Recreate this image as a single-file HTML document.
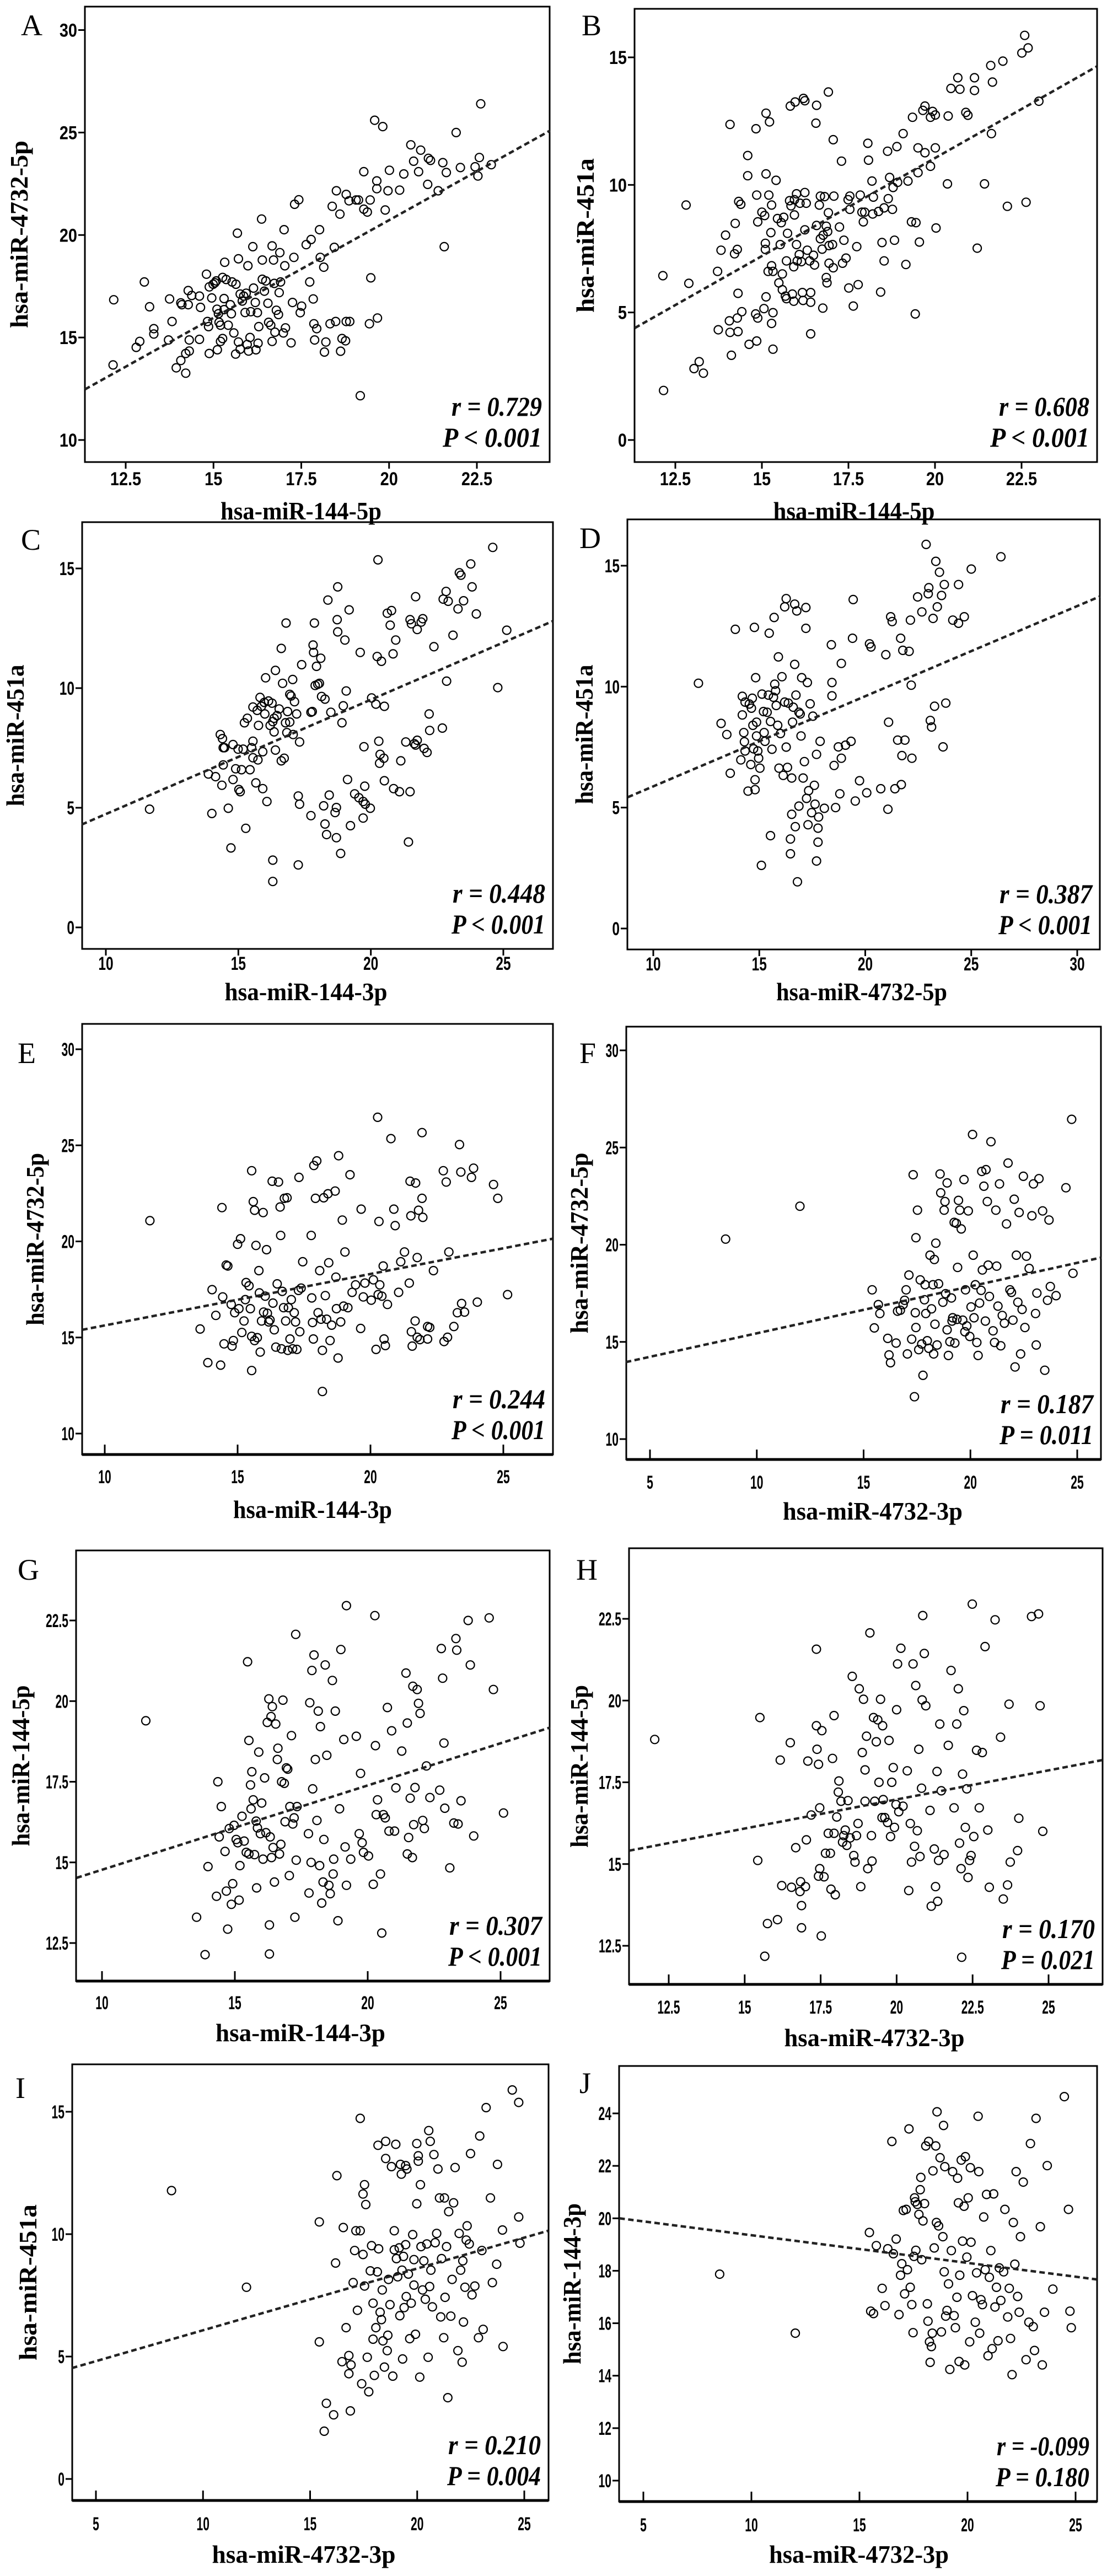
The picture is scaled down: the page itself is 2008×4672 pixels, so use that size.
<!DOCTYPE html>
<html><head><meta charset="utf-8"><style>
html,body{margin:0;padding:0;background:#fff;}
svg{display:block;}
</style></head><body>
<svg id="fig" xmlns="http://www.w3.org/2000/svg" width="2008" height="4672" viewBox="0 0 2008 4672">
<rect x="0" y="0" width="2008" height="4672" fill="#fff"/>
</svg>
<script>
const pointsA=[[12.14,13.66],[12.16,16.84],[12.8,14.52],[12.9,14.81],[13.03,17.71],[13.18,16.5],[13.3,15.43],[13.3,15.17],[13.72,14.88],[13.75,16.88],[13.82,15.78],[13.94,13.52],[14.07,13.88],[14.07,16.69],[14.1,16.6],[14.21,13.26],[14.21,14.22],[14.28,17.29],[14.28,16.6],[14.31,14.34],[14.31,14.88],[14.38,17.05],[14.6,14.91],[14.6,17.02],[14.63,16.47],[14.8,18.09],[14.83,15.78],[14.86,15.53],[14.88,14.22],[14.88,17.47],[14.95,16.93],[14.99,17.6],[15.04,17.67],[15.08,17.76],[15.1,16.38],[15.11,14.4],[15.14,16.16],[15.16,15.74],[15.2,15.6],[15.2,14.81],[15.26,17.93],[15.26,14.95],[15.3,16.9],[15.3,16.36],[15.32,18.67],[15.36,17.83],[15.42,15.6],[15.48,16.6],[15.51,16.16],[15.53,17.71],[15.58,15.22],[15.63,14.19],[15.64,17.6],[15.68,20.09],[15.71,18.84],[15.71,14.78],[15.76,14.43],[15.76,17.12],[15.82,16.78],[15.86,17.02],[15.9,16.22],[15.93,17.16],[15.96,14.66],[15.98,18.5],[16.0,14.34],[16.04,15.0],[16.06,16.26],[16.12,19.43],[16.14,17.41],[16.19,16.71],[16.21,14.4],[16.25,16.21],[16.27,14.72],[16.29,15.53],[16.37,20.78],[16.39,18.78],[16.39,17.84],[16.45,17.26],[16.49,17.76],[16.55,16.67],[16.57,15.74],[16.63,15.6],[16.67,14.81],[16.67,19.47],[16.71,18.78],[16.73,17.64],[16.75,15.26],[16.79,16.33],[16.85,16.12],[16.87,17.19],[16.89,19.14],[16.91,17.71],[16.99,15.22],[17.01,20.26],[17.03,18.5],[17.05,15.47],[17.21,14.74],[17.25,16.71],[17.29,18.91],[17.31,21.5],[17.43,21.72],[17.47,16.21],[17.51,16.53],[17.64,19.53],[17.74,17.71],[17.78,19.78],[17.84,16.88],[17.86,15.67],[17.88,14.88],[17.94,15.43],[18.02,20.26],[18.04,18.91],[18.14,18.43],[18.16,14.29],[18.2,14.78],[18.32,15.67],[18.38,21.4],[18.44,19.4],[18.48,15.78],[18.5,22.16],[18.6,21.02],[18.62,14.33],[18.66,14.95],[18.76,14.84],[18.78,21.98],[18.78,15.78],[18.86,21.67],[18.88,15.78],[19.06,21.71],[19.13,21.71],[19.18,12.16],[19.28,23.09],[19.28,21.26],[19.38,21.12],[19.44,15.67],[19.46,21.71],[19.48,17.91],[19.59,25.6],[19.65,22.64],[19.65,22.26],[19.67,15.95],[19.82,25.29],[19.89,21.22],[19.97,22.16],[20.01,23.16],[20.3,22.19],[20.42,22.98],[20.62,24.4],[20.7,23.6],[20.84,23.09],[20.9,24.14],[21.1,22.47],[21.12,23.74],[21.18,23.64],[21.4,22.16],[21.53,23.53],[21.57,19.43],[21.63,23.05],[21.91,25.0],[22.03,23.29],[22.45,23.33],[22.53,22.88],[22.57,23.78],[22.61,26.4],[22.91,23.43]];
const pointsB=[[12.16,1.94],[12.14,6.44],[12.81,9.21],[12.89,6.14],[13.04,2.8],[13.19,3.07],[13.31,2.62],[13.72,6.61],[13.74,4.32],[13.82,7.44],[13.95,8.03],[14.06,4.67],[14.08,12.37],[14.08,4.22],[14.12,3.32],[14.21,7.3],[14.23,8.49],[14.29,7.47],[14.29,4.78],[14.31,5.75],[14.31,4.25],[14.33,9.35],[14.39,9.24],[14.42,5.03],[14.59,11.15],[14.59,10.36],[14.63,3.75],[14.83,12.2],[14.82,4.94],[14.85,9.6],[14.85,3.88],[14.88,4.78],[14.88,8.55],[15.0,8.93],[15.06,5.15],[15.08,8.8],[15.1,7.71],[15.1,7.47],[15.12,12.81],[15.12,10.43],[15.12,5.61],[15.18,6.61],[15.2,9.6],[15.22,12.47],[15.26,8.13],[15.28,9.21],[15.28,4.57],[15.28,6.83],[15.32,6.61],[15.32,4.99],[15.32,3.56],[15.41,10.18],[15.45,8.68],[15.49,6.16],[15.53,7.66],[15.56,8.52],[15.59,6.51],[15.59,5.89],[15.63,8.73],[15.68,5.64],[15.71,7.02],[15.71,5.54],[15.74,8.1],[15.8,9.38],[15.82,13.09],[15.84,9.18],[15.88,5.72],[15.92,5.44],[15.92,6.79],[15.94,8.82],[15.94,9.42],[15.96,13.25],[16.0,9.65],[16.0,7.66],[16.02,7.02],[16.08,7.27],[16.1,9.28],[16.14,6.99],[16.17,5.78],[16.19,5.47],[16.2,13.39],[16.24,9.7],[16.24,8.24],[16.24,13.3],[16.28,9.28],[16.31,7.44],[16.38,7.02],[16.41,5.78],[16.41,5.4],[16.41,4.16],[16.49,7.24],[16.52,6.86],[16.56,12.42],[16.58,13.12],[16.58,8.41],[16.66,9.21],[16.69,9.56],[16.69,7.89],[16.74,7.48],[16.76,5.17],[16.77,8.03],[16.81,9.54],[16.86,8.38],[16.86,6.37],[16.88,6.16],[16.9,8.17],[16.92,8.91],[16.92,13.64],[16.94,7.62],[16.94,6.93],[17.04,7.66],[17.06,6.75],[17.06,11.77],[17.08,9.56],[17.24,8.35],[17.3,10.93],[17.33,6.93],[17.37,7.83],[17.43,7.13],[17.51,5.96],[17.49,9.42],[17.54,9.56],[17.54,9.04],[17.64,5.25],[17.74,7.58],[17.78,6.09],[17.84,9.6],[17.89,8.93],[17.93,8.55],[17.97,8.93],[18.06,11.63],[18.08,10.97],[18.18,10.15],[18.2,8.86],[18.22,9.52],[18.37,8.96],[18.43,5.8],[18.47,7.74],[18.53,7.02],[18.53,9.1],[18.63,11.32],[18.65,9.46],[18.69,10.29],[18.77,9.04],[18.79,9.9],[18.83,7.83],[18.9,11.5],[18.92,10.1],[19.08,12.01],[19.16,6.88],[19.22,10.15],[19.32,8.55],[19.35,12.65],[19.43,4.94],[19.45,8.52],[19.51,11.45],[19.51,10.48],[19.55,7.76],[19.65,12.92],[19.71,13.09],[19.71,11.26],[19.87,10.73],[19.87,12.65],[19.93,12.88],[20.01,12.74],[20.01,11.45],[20.03,8.31],[20.36,10.04],[20.38,12.7],[20.46,13.78],[20.66,14.2],[20.72,13.75],[20.89,12.84],[20.95,12.73],[21.14,13.7],[21.14,14.2],[21.22,7.52],[21.43,10.04],[21.61,14.68],[21.63,12.01],[21.66,14.03],[21.96,14.85],[22.09,9.16],[22.51,15.17],[22.63,9.32],[22.59,15.86],[22.69,15.37],[23.0,13.28]];
const pointsC=[[11.65,4.94],[13.87,6.41],[14.0,4.76],[14.14,6.3],[14.32,8.06],[14.4,7.89],[14.43,7.51],[14.43,6.79],[14.48,7.51],[14.38,5.94],[14.62,4.98],[14.72,3.32],[14.8,6.18],[14.8,7.64],[14.9,6.63],[14.99,7.45],[15.02,5.76],[15.07,5.67],[15.12,6.59],[15.18,7.45],[15.23,8.55],[15.28,4.14],[15.34,8.74],[15.44,6.59],[15.5,7.51],[15.55,7.09],[15.55,7.78],[15.55,9.21],[15.66,6.04],[15.71,9.07],[15.74,7.0],[15.76,8.44],[15.82,9.61],[15.87,9.24],[15.92,7.34],[15.98,9.4],[16.0,8.92],[15.92,5.8],[16.03,10.43],[16.08,5.26],[16.14,9.46],[16.2,8.44],[16.27,9.37],[16.3,2.81],[16.3,1.92],[16.3,8.6],[16.35,8.74],[16.35,8.17],[16.4,10.74],[16.4,7.41],[16.46,8.85],[16.54,9.13],[16.62,11.66],[16.62,6.96],[16.67,10.2],[16.73,7.07],[16.78,8.55],[16.8,12.72],[16.83,8.14],[16.86,9.02],[16.94,9.74],[16.94,8.58],[16.99,9.67],[17.05,10.36],[17.07,8.06],[17.12,9.43],[17.2,8.92],[17.26,2.61],[17.26,5.49],[17.31,5.15],[17.31,7.75],[17.39,10.98],[17.74,4.67],[17.74,8.99],[17.79,9.02],[17.82,11.8],[17.84,11.49],[17.87,12.72],[17.9,10.11],[17.95,10.91],[18.0,10.16],[18.06,10.2],[18.11,11.25],[18.14,9.65],[18.22,5.08],[18.27,4.32],[18.27,9.54],[18.33,3.88],[18.38,13.68],[18.43,5.53],[18.49,8.99],[18.65,4.8],[18.7,5.01],[18.75,14.23],[18.7,3.75],[18.73,12.86],[18.75,12.35],[18.86,3.09],[18.91,8.55],[18.96,9.26],[19.02,12.01],[19.07,9.88],[19.12,6.18],[19.18,13.27],[19.23,4.25],[19.39,5.58],[19.55,5.42],[19.6,11.49],[19.71,5.26],[19.71,4.57],[19.74,7.55],[19.77,5.9],[19.79,5.15],[19.98,4.98],[20.03,9.59],[20.19,9.33],[20.24,11.32],[20.27,15.36],[20.3,7.78],[20.33,6.86],[20.35,7.23],[20.4,11.12],[20.49,7.07],[20.51,6.13],[20.51,9.24],[20.62,13.13],[20.73,12.63],[20.78,13.24],[20.84,11.43],[20.86,5.8],[20.94,12.01],[21.08,5.67],[21.13,6.96],[21.32,7.75],[21.42,3.57],[21.48,5.67],[21.48,12.86],[21.53,12.69],[21.64,7.68],[21.69,7.62],[21.69,13.82],[21.75,7.82],[21.75,12.45],[21.9,12.76],[21.96,12.9],[22.01,7.48],[22.12,7.31],[22.2,8.92],[22.22,8.23],[22.38,11.73],[22.7,8.33],[22.73,13.72],[22.84,14.04],[22.86,10.29],[22.92,13.63],[23.1,12.21],[23.29,13.31],[23.34,14.82],[23.4,14.72],[23.5,13.65],[23.77,15.19],[23.82,14.23],[23.98,13.1],[24.6,15.88],[24.79,10.02],[25.13,12.42]];
const pointsD=[[12.13,10.14],[13.2,8.48],[13.47,8.02],[13.63,6.42],[13.87,12.37],[14.13,6.97],[14.2,9.6],[14.2,8.83],[14.27,8.1],[14.3,7.72],[14.33,9.36],[14.33,7.34],[14.47,5.68],[14.53,9.28],[14.6,6.78],[14.63,9.11],[14.67,9.52],[14.7,8.4],[14.73,7.43],[14.77,12.45],[14.8,6.15],[14.8,5.74],[14.83,10.37],[14.87,8.53],[14.87,7.96],[14.93,7.34],[14.97,7.04],[15.03,6.63],[15.1,2.61],[15.13,9.69],[15.2,8.97],[15.23,8.1],[15.27,7.74],[15.37,8.94],[15.43,9.65],[15.47,12.21],[15.53,3.84],[15.53,8.56],[15.6,7.41],[15.67,9.56],[15.7,12.86],[15.73,10.1],[15.77,9.83],[15.8,9.22],[15.87,8.4],[15.9,11.23],[15.93,6.63],[16.0,8.06],[16.07,10.41],[16.13,6.33],[16.2,13.3],[16.2,9.36],[16.27,13.64],[16.27,7.5],[16.33,6.66],[16.37,9.32],[16.47,3.7],[16.47,3.09],[16.53,4.72],[16.53,6.22],[16.57,8.53],[16.6,9.15],[16.67,13.41],[16.67,10.92],[16.7,4.21],[16.73,9.65],[16.77,13.13],[16.8,1.93],[16.87,5.06],[16.87,8.94],[16.93,8.87],[16.97,7.96],[17.0,10.37],[17.07,6.22],[17.13,6.9],[17.2,13.27],[17.2,12.41],[17.23,5.38],[17.27,10.17],[17.3,4.29],[17.33,5.7],[17.4,9.29],[17.47,4.79],[17.53,8.78],[17.6,5.92],[17.63,5.14],[17.7,2.79],[17.7,7.2],[17.77,3.57],[17.77,4.15],[17.8,4.61],[17.87,7.74],[18.07,4.97],[18.4,11.73],[18.43,10.17],[18.43,9.62],[18.53,6.74],[18.6,5.0],[18.73,7.51],[18.8,5.57],[18.87,10.96],[18.87,7.04],[19.07,7.58],[19.33,7.74],[19.4,12.0],[19.43,13.6],[19.53,5.27],[19.73,6.11],[20.07,5.61],[20.2,11.77],[20.27,11.64],[20.73,5.78],[20.97,11.32],[21.07,4.93],[21.1,8.53],[21.2,12.89],[21.27,12.69],[21.4,5.78],[21.53,7.79],[21.67,12.0],[21.7,5.95],[21.73,7.15],[21.77,11.5],[21.87,7.79],[22.07,11.46],[22.13,12.75],[22.2,7.04],[22.17,10.06],[22.47,13.71],[22.67,13.09],[22.87,15.88],[22.97,13.84],[23.0,14.09],[23.07,8.6],[23.13,8.33],[23.2,12.82],[23.27,9.19],[23.33,15.18],[23.4,13.3],[23.5,14.73],[23.6,13.77],[23.67,7.51],[23.73,14.22],[23.8,9.32],[24.13,12.75],[24.4,14.22],[24.4,12.62],[24.67,12.89],[25.0,14.86],[26.4,15.37]];
const pointsE=[[11.7,21.08],[13.59,15.44],[13.88,13.69],[14.04,17.49],[14.18,16.15],[14.36,13.56],[14.41,21.76],[14.44,17.11],[14.49,14.67],[14.57,18.77],[14.63,18.72],[14.76,16.72],[14.79,14.55],[14.84,14.84],[14.89,16.29],[15.0,19.85],[15.05,16.5],[15.11,20.14],[15.16,15.26],[15.24,15.86],[15.29,16.97],[15.32,17.86],[15.43,17.69],[15.48,16.5],[15.53,15.06],[15.53,13.28],[15.53,23.68],[15.59,22.07],[15.64,21.62],[15.64,14.84],[15.69,19.79],[15.74,14.99],[15.8,18.48],[15.82,17.32],[15.85,14.24],[15.9,15.86],[15.96,21.5],[15.98,16.32],[16.04,17.15],[16.09,19.57],[16.12,16.26],[16.17,15.81],[16.22,15.91],[16.3,23.13],[16.33,16.79],[16.38,15.4],[16.44,14.5],[16.49,17.79],[16.54,23.09],[16.6,21.79],[16.62,20.31],[16.65,14.41],[16.68,17.4],[16.73,16.55],[16.76,22.24],[16.81,15.86],[16.86,22.27],[16.89,14.33],[16.91,16.55],[16.97,14.92],[17.02,16.97],[17.07,14.41],[17.13,16.29],[17.18,15.81],[17.23,14.38],[17.29,17.45],[17.31,23.33],[17.34,15.3],[17.39,17.57],[17.45,18.94],[17.77,20.31],[17.79,17.06],[17.82,15.78],[17.85,14.92],[17.87,23.95],[17.93,22.24],[17.98,24.19],[18.03,16.29],[18.09,18.48],[18.14,15.95],[18.19,14.33],[18.19,12.19],[18.24,22.27],[18.3,17.18],[18.35,15.95],[18.4,22.48],[18.43,18.89],[18.48,14.84],[18.54,15.64],[18.67,22.62],[18.7,18.14],[18.72,16.5],[18.78,13.93],[18.8,24.46],[18.88,15.81],[18.94,21.11],[18.99,16.63],[19.04,19.45],[19.15,16.55],[19.23,23.47],[19.31,17.35],[19.44,17.74],[19.63,15.47],[19.65,21.68],[19.73,17.11],[19.79,17.83],[20.03,16.94],[20.11,18.0],[20.21,14.38],[20.27,26.46],[20.29,17.23],[20.32,21.04],[20.35,17.74],[20.43,17.15],[20.48,18.72],[20.51,14.92],[20.56,14.58],[20.64,16.72],[20.77,25.35],[20.88,21.68],[20.93,20.82],[21.06,17.35],[21.14,18.94],[21.28,19.45],[21.46,17.83],[21.49,23.13],[21.52,21.33],[21.54,15.3],[21.57,14.55],[21.68,15.86],[21.7,23.04],[21.76,19.16],[21.76,15.01],[21.81,21.62],[21.86,14.89],[21.94,25.66],[21.94,22.24],[21.97,21.25],[22.15,14.92],[22.15,15.57],[22.23,15.52],[22.37,18.48],[22.74,23.68],[22.77,14.79],[22.85,23.09],[22.9,15.01],[22.95,19.45],[23.14,15.57],[23.27,16.29],[23.35,25.04],[23.4,23.61],[23.43,16.77],[23.54,16.32],[23.8,23.33],[23.88,23.81],[24.02,16.84],[24.63,22.96],[24.79,22.24],[25.16,17.23]];
const pointsF=[[8.54,20.29],[12.02,21.98],[15.4,17.68],[15.5,15.72],[15.69,16.92],[15.76,16.46],[16.13,15.18],[16.19,14.33],[16.26,13.93],[16.52,14.94],[16.59,16.58],[16.72,16.63],[16.85,16.92],[16.92,17.14],[16.99,17.68],[17.05,14.38],[17.12,18.44],[17.25,15.14],[17.32,23.6],[17.38,12.18],[17.42,16.5],[17.45,20.36],[17.45,15.74],[17.52,21.78],[17.58,14.6],[17.65,18.19],[17.72,14.89],[17.78,13.28],[17.85,17.17],[17.88,17.94],[17.91,16.46],[17.98,15.06],[18.05,14.67],[18.11,19.46],[18.18,16.7],[18.25,17.94],[18.28,14.38],[18.31,19.24],[18.34,15.91],[18.38,20.08],[18.44,14.84],[18.51,17.99],[18.58,23.64],[18.61,22.67],[18.71,17.04],[18.77,21.78],[18.81,22.22],[18.84,17.48],[18.91,23.18],[18.91,15.62],[18.97,14.3],[19.04,15.01],[19.11,17.26],[19.14,16.07],[19.17,16.24],[19.24,21.15],[19.27,14.94],[19.34,21.1],[19.37,16.16],[19.4,18.83],[19.44,22.28],[19.5,21.78],[19.57,20.81],[19.64,16.12],[19.7,23.35],[19.74,15.52],[19.77,17.68],[19.83,15.82],[19.9,21.74],[19.97,15.28],[20.03,16.8],[20.1,25.67],[20.13,19.46],[20.17,16.24],[20.23,17.94],[20.3,14.97],[20.36,14.3],[20.43,17.0],[20.5,17.65],[20.53,23.77],[20.56,18.7],[20.63,23.01],[20.7,16.07],[20.73,23.86],[20.79,22.22],[20.83,18.95],[20.89,17.34],[20.96,25.3],[21.06,15.57],[21.13,14.97],[21.19,21.78],[21.23,18.9],[21.29,16.84],[21.36,23.13],[21.42,14.8],[21.49,16.36],[21.59,15.96],[21.69,21.07],[21.76,24.2],[21.85,17.68],[21.92,17.55],[21.99,16.12],[22.05,22.34],[22.09,13.71],[22.15,19.46],[22.22,17.04],[22.28,21.66],[22.35,14.38],[22.42,16.67],[22.48,23.52],[22.55,15.74],[22.62,19.41],[22.75,18.78],[22.88,21.49],[22.95,23.13],[23.05,16.46],[23.08,14.84],[23.11,17.51],[23.21,23.4],[23.38,21.74],[23.48,13.54],[23.61,17.14],[23.68,21.27],[23.74,17.85],[24.01,17.38],[24.47,22.93],[24.74,26.45],[24.8,18.53]];
const pointsG=[[11.65,19.39],[13.56,13.3],[13.88,12.14],[13.99,14.87],[14.31,13.95],[14.36,17.5],[14.41,15.79],[14.49,16.73],[14.63,15.34],[14.68,14.11],[14.73,12.93],[14.79,16.05],[14.87,13.7],[14.92,14.34],[14.97,16.15],[15.05,15.71],[15.11,15.61],[15.16,13.83],[15.19,14.9],[15.27,16.43],[15.35,15.66],[15.43,15.31],[15.48,21.22],[15.53,18.78],[15.53,15.26],[15.59,17.4],[15.61,16.66],[15.64,17.81],[15.69,16.94],[15.74,15.24],[15.8,16.28],[15.82,14.21],[15.85,16.07],[15.9,18.42],[15.96,15.89],[16.01,16.84],[16.06,15.1],[16.12,17.62],[16.17,15.92],[16.22,19.34],[16.28,20.07],[16.3,13.06],[16.3,12.16],[16.33,15.79],[16.36,19.52],[16.38,15.15],[16.41,19.83],[16.44,15.46],[16.49,14.39],[16.54,19.29],[16.6,18.19],[16.62,18.54],[16.68,15.26],[16.73,15.56],[16.76,17.5],[16.81,20.03],[16.86,17.45],[16.89,16.26],[16.94,17.93],[16.99,17.89],[17.05,14.59],[17.07,16.73],[17.13,18.93],[17.18,16.19],[17.23,16.38],[17.26,13.3],[17.29,22.07],[17.31,15.07],[17.34,16.73],[17.77,15.89],[17.79,14.05],[17.82,19.95],[17.87,15.0],[17.9,20.95],[17.93,17.28],[17.98,21.43],[18.03,18.19],[18.09,16.3],[18.14,19.69],[18.19,14.9],[18.22,19.21],[18.27,13.74],[18.32,14.39],[18.35,15.71],[18.4,21.12],[18.46,18.32],[18.54,14.29],[18.59,14.03],[18.67,20.64],[18.7,14.64],[18.72,15.1],[18.78,19.69],[18.88,13.19],[18.94,16.66],[18.99,21.6],[19.1,18.81],[19.15,15.48],[19.2,14.29],[19.2,22.96],[19.36,15.1],[19.57,18.91],[19.68,15.89],[19.73,17.76],[19.79,15.61],[19.84,15.31],[20.03,15.2],[20.21,14.32],[20.27,22.65],[20.29,18.62],[20.32,16.48],[20.37,16.94],[20.48,14.64],[20.53,12.81],[20.59,16.48],[20.66,16.38],[20.74,19.8],[20.8,15.97],[20.9,19.08],[21.01,15.97],[21.06,17.31],[21.28,18.45],[21.44,20.87],[21.49,15.26],[21.49,19.32],[21.54,15.77],[21.6,16.99],[21.68,15.15],[21.7,20.46],[21.73,16.17],[21.78,17.32],[21.86,20.36],[21.91,19.93],[21.97,19.62],[22.07,16.3],[22.13,16.05],[22.21,17.99],[22.34,17.01],[22.71,17.24],[22.77,21.63],[22.82,20.71],[22.87,18.7],[22.9,16.68],[23.09,14.83],[23.24,16.22],[23.32,21.94],[23.35,21.58],[23.4,16.19],[23.51,16.91],[23.78,22.5],[23.86,21.12],[23.99,15.82],[24.57,22.58],[24.73,20.36],[25.11,16.53]];
const pointsH=[[12.04,18.81],[15.43,15.11],[15.5,19.48],[15.66,12.18],[15.75,13.18],[16.08,13.3],[16.17,18.18],[16.22,14.34],[16.5,18.71],[16.54,14.29],[16.68,15.5],[16.82,14.16],[16.84,14.46],[16.87,13.73],[16.87,13.05],[17.0,14.31],[17.03,15.74],[17.08,18.15],[17.19,16.5],[17.36,19.23],[17.36,21.57],[17.38,18.51],[17.43,18.05],[17.43,14.63],[17.47,16.72],[17.47,14.86],[17.52,12.8],[17.54,19.08],[17.61,14.61],[17.66,15.33],[17.75,15.94],[17.82,15.33],[17.84,14.23],[17.89,18.23],[17.94,19.54],[17.94,15.94],[17.98,14.06],[18.03,16.44],[18.08,17.2],[18.1,17.54],[18.17,16.92],[18.22,15.67],[18.26,15.87],[18.31,16.04],[18.36,15.57],[18.4,16.94],[18.47,15.8],[18.54,20.74],[18.59,15.26],[18.63,15.06],[18.68,15.87],[18.73,16.24],[18.77,20.36],[18.82,14.31],[18.87,18.41],[18.91,20.04],[18.96,17.88],[18.96,16.92],[19.01,18.91],[19.05,14.86],[19.12,22.07],[19.17,15.87],[19.19,15.09],[19.24,19.48],[19.28,16.92],[19.33,18.74],[19.38,19.41],[19.42,17.5],[19.47,20.04],[19.52,16.42],[19.54,19.23],[19.56,16.97],[19.61,16.42],[19.7,16.27],[19.75,18.78],[19.8,15.84],[19.84,17.5],[19.89,17.95],[19.93,16.12],[19.98,16.82],[20.0,19.72],[20.03,21.12],[20.07,16.6],[20.14,21.6],[20.21,16.77],[20.35,17.85],[20.4,14.19],[20.45,16.24],[20.49,15.06],[20.54,21.12],[20.59,15.54],[20.63,20.46],[20.68,16.02],[20.73,18.51],[20.77,15.23],[20.82,17.32],[20.84,20.02],[20.86,22.6],[20.91,21.44],[20.96,19.84],[21.1,16.64],[21.14,13.71],[21.24,15.46],[21.28,14.31],[21.33,17.83],[21.35,13.86],[21.38,15.11],[21.42,19.28],[21.47,17.24],[21.56,15.29],[21.7,18.63],[21.79,20.92],[21.89,16.72],[21.98,19.28],[22.03,20.36],[22.07,15.64],[22.12,14.86],[22.14,12.15],[22.17,17.75],[22.21,19.69],[22.26,16.12],[22.31,17.3],[22.35,14.59],[22.4,15.11],[22.45,15.26],[22.49,22.95],[22.54,15.84],[22.63,18.48],[22.82,18.41],[22.72,16.72],[22.91,21.65],[23.0,16.04],[23.05,14.29],[23.24,22.47],[23.42,18.88],[23.51,13.93],[23.65,14.36],[23.7,19.89],[23.74,15.06],[23.98,15.41],[24.02,16.4],[24.44,22.57],[24.67,22.65],[24.72,19.84],[24.81,16.0]];
const pointsI=[[8.53,11.78],[12.03,7.83],[15.43,10.5],[15.43,5.6],[15.66,1.95],[15.76,3.09],[16.1,2.62],[16.19,8.82],[16.25,12.39],[16.49,4.79],[16.55,10.27],[16.68,6.18],[16.81,5.04],[16.81,4.3],[16.88,2.78],[16.91,4.66],[17.01,8.02],[17.08,9.33],[17.14,10.14],[17.21,6.89],[17.34,10.14],[17.34,14.73],[17.41,3.89],[17.47,9.17],[17.47,11.64],[17.54,12.02],[17.54,7.88],[17.6,11.21],[17.67,4.97],[17.74,3.56],[17.81,8.5],[17.87,9.53],[17.94,5.71],[17.94,7.18],[18.0,4.23],[18.07,6.18],[18.14,8.46],[18.17,13.63],[18.2,9.4],[18.27,6.81],[18.33,6.51],[18.37,7.72],[18.4,5.64],[18.47,4.57],[18.53,13.79],[18.53,13.09],[18.6,5.24],[18.63,5.87],[18.66,8.15],[18.73,7.12],[18.8,12.76],[18.86,4.2],[18.93,9.36],[18.93,10.14],[19.0,13.67],[19.03,9.0],[19.09,8.26],[19.16,9.44],[19.19,6.67],[19.22,12.85],[19.26,12.45],[19.29,8.53],[19.32,4.9],[19.36,9.09],[19.39,7.0],[19.46,9.57],[19.46,12.8],[19.49,7.45],[19.52,12.66],[19.59,8.37],[19.65,5.73],[19.72,7.18],[19.79,9.98],[19.85,7.92],[19.85,8.96],[19.92,5.91],[19.98,11.24],[19.98,13.7],[20.05,13.2],[20.05,12.98],[20.12,4.16],[20.15,12.02],[20.18,9.49],[20.25,7.72],[20.31,8.91],[20.38,7.34],[20.45,9.6],[20.51,4.97],[20.54,14.23],[20.58,7.86],[20.61,13.79],[20.64,8.53],[20.71,7.03],[20.78,13.25],[20.84,9.65],[20.91,10.03],[20.97,12.66],[21.04,11.48],[21.1,6.62],[21.14,9.0],[21.24,5.77],[21.27,11.48],[21.3,7.42],[21.37,9.49],[21.43,3.32],[21.47,10.92],[21.57,6.65],[21.63,8.15],[21.7,11.28],[21.77,12.72],[21.9,5.24],[21.96,10.03],[22.03,8.53],[22.1,4.77],[22.13,8.91],[22.16,6.41],[22.23,7.83],[22.29,9.76],[22.33,10.34],[22.43,9.6],[22.49,13.29],[22.56,7.52],[22.69,7.88],[22.86,5.77],[22.92,14.01],[23.02,9.33],[23.08,6.11],[23.22,15.17],[23.42,11.48],[23.51,8.02],[23.71,8.77],[23.75,12.85],[23.98,10.17],[24.01,5.41],[24.44,15.89],[24.74,15.38],[24.74,10.7],[24.8,9.63]];
const pointsJ=[[8.53,17.87],[12.03,15.62],[15.46,19.46],[15.52,16.46],[15.65,16.37],[15.78,18.96],[16.05,17.33],[16.18,16.67],[16.31,18.84],[16.5,22.93],[16.57,18.65],[16.7,19.21],[16.83,16.33],[16.9,17.83],[16.96,18.27],[17.03,20.3],[17.09,17.12],[17.16,20.34],[17.22,18.04],[17.29,23.41],[17.35,17.37],[17.42,16.71],[17.48,15.64],[17.52,18.55],[17.55,20.78],[17.58,20.63],[17.61,18.78],[17.68,20.53],[17.75,20.15],[17.81,21.09],[17.84,21.56],[17.88,18.42],[17.94,19.9],[18.01,20.56],[18.07,22.76],[18.14,16.74],[18.17,16.08],[18.2,22.93],[18.24,15.29],[18.27,14.51],[18.33,15.11],[18.37,15.62],[18.4,21.81],[18.46,18.87],[18.53,22.76],[18.56,19.84],[18.59,24.06],[18.66,19.71],[18.73,22.31],[18.79,15.67],[18.86,19.3],[18.89,23.54],[18.92,17.96],[18.95,21.97],[18.99,16.27],[19.05,16.49],[19.12,17.5],[19.18,14.24],[19.25,18.77],[19.31,21.78],[19.38,16.29],[19.44,15.83],[19.51,16.99],[19.54,21.53],[19.58,20.59],[19.61,14.54],[19.64,17.83],[19.71,22.22],[19.77,19.13],[19.84,20.46],[19.87,14.41],[19.9,22.35],[19.97,18.52],[20.03,20.78],[20.1,15.29],[20.13,21.93],[20.16,19.09],[20.23,17.05],[20.36,16.04],[20.42,17.92],[20.49,23.89],[20.52,21.78],[20.56,15.62],[20.62,16.9],[20.69,16.71],[20.75,20.05],[20.82,18.04],[20.88,20.91],[20.95,14.76],[21.01,17.75],[21.08,18.77],[21.14,15.03],[21.21,20.93],[21.27,16.62],[21.34,17.37],[21.41,15.33],[21.47,18.11],[21.54,16.87],[21.67,17.96],[21.73,20.34],[21.86,16.24],[21.93,17.33],[21.99,15.42],[22.06,14.04],[22.12,19.84],[22.19,18.25],[22.25,21.78],[22.32,17.02],[22.39,16.42],[22.45,19.3],[22.58,21.38],[22.71,14.61],[22.84,16.04],[22.91,22.85],[23.04,15.87],[23.1,14.96],[23.17,23.81],[23.37,19.68],[23.46,14.41],[23.56,16.42],[23.69,22.01],[23.95,17.3],[24.48,24.64],[24.67,20.34],[24.74,16.46],[24.8,15.83]];

const lineA_x=[11.34,24.58], lineA_y=[12.47,25.09];
const lineB_x=[11.33,24.67], lineB_y=[4.39,14.64];
const lineC_x=[9.09,26.87], lineC_y=[4.3,12.8];
const lineD_x=[8.8,31.07], lineD_y=[5.43,13.73];
const lineE_x=[9.15,26.86], lineE_y=[15.4,20.14];
const lineF_x=[3.87,26.13], lineF_y=[13.96,19.34];
const lineG_x=[9.04,26.86], lineG_y=[14.52,19.18];
const lineH_x=[11.2,26.77], lineH_y=[15.41,18.18];
const lineI_x=[3.88,26.12], lineI_y=[4.53,10.14];
const lineJ_x=[3.89,25.98], lineJ_y=[20.0,17.67];

const xTicksA=[12.5,15,17.5,20,22.5], yTicksA=[10,15,20,25,30];
const xTicksB=[12.5,15,17.5,20,22.5], yTicksB=[0,5,10,15];
const xTicksC=[10,15,20,25], yTicksC=[0,5,10,15];
const xTicksD=[10,15,20,25,30], yTicksD=[0,5,10,15];
const xTicksE=[10,15,20,25], yTicksE=[10,15,20,25,30];
const xTicksF=[5,10,15,20,25], yTicksF=[10,15,20,25,30];
const xTicksG=[10,15,20,25], yTicksG=[12.5,15,17.5,20,22.5];
const xTicksH=[12.5,15,17.5,20,22.5,25], yTicksH=[12.5,15,17.5,20,22.5];
const xTicksI=[5,10,15,20,25], yTicksI=[0,5,10,15];
const xTicksJ=[5,10,15,20,25], yTicksJ=[10,12,14,16,18,20,22,24];

const rValues=['0.729','0.608','0.448','0.387','0.244','0.187','0.307','0.170','0.210','-0.099'];
const pValues=['< 0.001','< 0.001','< 0.001','< 0.001','< 0.001','= 0.011','< 0.001','= 0.021','= 0.004','= 0.180'];

const NS='http://www.w3.org/2000/svg';
const svg=document.getElementById('fig');
function mk(tag,attrs,parent){const e=document.createElementNS(NS,tag);for(const k in attrs)e.setAttribute(k,attrs[k]);(parent||svg).appendChild(e);return e;}

const panels=[
 {L:'A',pts:pointsA,lx:lineA_x,ly:lineA_y,xt:xTicksA,yt:yTicksA,xl:'hsa-miR-144-5p',yl:'hsa-miR-4732-5p',box:[154,12,997,838],xm:[12.5,228,22.5,865],ym:[30,54.5,10,798],let:[38,64],ytx:35,ytl:340,xtc:546,xtb:942,xtl:292,tdir:1,xlo:42,sx:0.85},
 {L:'B',pts:pointsB,lx:lineB_x,ly:lineB_y,xt:xTicksB,yt:yTicksB,xl:'hsa-miR-144-5p',yl:'hsa-miR-451a',box:[1151,16,1990,838],xm:[12.5,1225,22.5,1853],ym:[15,104,0,798],let:[1055,64],ytx:1062,ytl:280,xtc:1549,xtb:942,xtl:293,tdir:1,xlo:42,sx:0.85},
 {L:'C',pts:pointsC,lx:lineC_x,ly:lineC_y,xt:xTicksC,yt:yTicksC,xl:'hsa-miR-144-3p',yl:'hsa-miR-451a',box:[149,947,1003,1721],xm:[10,192,25,913],ym:[15,1031,0,1682],let:[38,997],ytx:28,ytl:257,xtc:555,xtb:1814,xtl:295,tdir:1,xlo:38,sx:0.72},
 {L:'D',pts:pointsD,lx:lineD_x,ly:lineD_y,xt:xTicksD,yt:yTicksD,xl:'hsa-miR-4732-5p',yl:'hsa-miR-451a',box:[1138,942,1995,1722],xm:[10,1185,30,1954],ym:[15,1026,0,1684],let:[1051,994],ytx:1060,ytl:253,xtc:1563,xtb:1814,xtl:310,tdir:1,xlo:38,sx:0.72},
 {L:'E',pts:pointsE,lx:lineE_x,ly:lineE_y,xt:xTicksE,yt:yTicksE,xl:'hsa-miR-144-3p',yl:'hsa-miR-4732-5p',box:[149,1857,1003,2638],xm:[10,190,25,913],ym:[30,1903,10,2600],let:[32,1928],ytx:64,ytl:313,xtc:567,xtb:2753,xtl:288,tdir:-1,xlo:52,sx:0.62},
 {L:'F',pts:pointsF,lx:lineF_x,ly:lineF_y,xt:xTicksF,yt:yTicksF,xl:'hsa-miR-4732-3p',yl:'hsa-miR-4732-5p',box:[1136,1862,1997,2647],xm:[5,1179,25,1954],ym:[30,1905,10,2610],let:[1051,1928],ytx:1051,ytl:328,xtc:1583,xtb:2756,xtl:326,tdir:-1,xlo:53,sx:0.62},
 {L:'G',pts:pointsG,lx:lineG_x,ly:lineG_y,xt:xTicksG,yt:yTicksG,xl:'hsa-miR-144-3p',yl:'hsa-miR-144-5p',box:[138,2812,997,3593],xm:[10,185,25,908],ym:[22.5,2939,12.5,3524],let:[32,2865],ytx:38,ytl:292,xtc:545,xtb:3702,xtl:308,tdir:-1,xlo:51,sx:0.62},
 {L:'H',pts:pointsH,lx:lineH_x,ly:lineH_y,xt:xTicksH,yt:yTicksH,xl:'hsa-miR-4732-3p',yl:'hsa-miR-144-5p',box:[1141,2808,2000,3599],xm:[12.5,1213,25,1902],ym:[22.5,2936,12.5,3529],let:[1045,2865],ytx:1051,ytl:295,xtc:1586,xtb:3711,xtl:327,tdir:-1,xlo:53,sx:0.62},
 {L:'I',pts:pointsI,lx:lineI_x,ly:lineI_y,xt:xTicksI,yt:yTicksI,xl:'hsa-miR-4732-3p',yl:'hsa-miR-451a',box:[131,3744,995,4535],xm:[5,174,25,951],ym:[15,3830,0,4496],let:[28,3805],ytx:51,ytl:283,xtc:551,xtb:4648,xtl:333,tdir:-1,xlo:54,sx:0.62},
 {L:'J',pts:pointsJ,lx:lineJ_x,ly:lineJ_y,xt:xTicksJ,yt:yTicksJ,xl:'hsa-miR-4732-3p',yl:'hsa-miR-144-3p',box:[1123,3747,1990,4537],xm:[5,1167,25,1951],ym:[24,3833,10,4499],let:[1051,3796],ytx:1038,ytl:292,xtc:1558,xtb:4648,xtl:326,tdir:-1,xlo:54,sx:0.62}
];

panels.forEach((P,i)=>{
  const id=P.L.toLowerCase();
  const g=mk('g',{});
  
  
  const [l,t,r,b]=P.box;
  const X=v=>P.xm[1]+(v-P.xm[0])*(P.xm[3]-P.xm[1])/(P.xm[2]-P.xm[0]);
  const Y=v=>P.ym[1]+(v-P.ym[0])*(P.ym[3]-P.ym[1])/(P.ym[2]-P.ym[0]);
  const frame=mk('rect',{x:l,y:t,width:r-l,height:b-t,fill:'none',stroke:'#000','stroke-width':3},g);
  
  
  const lt=mk('text',{x:P.let[0],y:P.let[1],'font-family':'"Liberation Serif",serif','font-size':54,fill:'#000'},g);
  
  
  lt.textContent=P.L;
  P.yt.forEach(v=>{
    const y=Y(v);
    const tk=mk('line',{x1:l-12,y1:y,x2:l,y2:y,stroke:'#000','stroke-width':3},g);
    
    
    const tg=mk('g',{transform:`translate(${l-14},${y+12}) scale(${P.sx},1)`},g);
    const tx=mk('text',{x:0,y:0,'text-anchor':'end','font-family':'"Liberation Sans",sans-serif','font-weight':'bold','font-size':34,fill:'#000'},tg);
    
    
    tx.textContent=String(v);
  });
  P.xt.forEach(v=>{
    const x=X(v);
    const y2=P.tdir>0?b+12:b-18;
    const tk=mk('line',{x1:x,y1:b,x2:x,y2:y2,stroke:'#000','stroke-width':3},g);
    
    
    const tg=mk('g',{transform:`translate(${x},${b+P.xlo}) scale(${P.sx},1)`},g);
    const tx=mk('text',{x:0,y:0,'text-anchor':'middle','font-family':'"Liberation Sans",sans-serif','font-weight':'bold','font-size':34,fill:'#000'},tg);
    
    
    tx.textContent=String(v);
  });
  if(P.tdir<0){
    const bl=mk('line',{x1:l,y1:b,x2:r,y2:b,stroke:'#000','stroke-width':5},g);
    
    
  }
  const xt=mk('text',{x:P.xtc,y:P.xtb,'text-anchor':'middle','font-family':'"Liberation Serif",serif','font-weight':'bold','font-size':46,textLength:P.xtl,lengthAdjust:'spacingAndGlyphs',fill:'#000'},g);
  
  
  xt.textContent=P.xl;
  const cy=(t+b)/2;
  const yt=mk('text',{x:0,y:0,transform:`translate(${P.ytx+15},${cy}) rotate(-90)`,'text-anchor':'middle','font-family':'"Liberation Serif",serif','font-weight':'bold','font-size':46,textLength:P.ytl,lengthAdjust:'spacingAndGlyphs',fill:'#000'},g);
  
  
  yt.textContent=P.yl;
  const cg=mk('g',{fill:'none',stroke:'#000','stroke-width':2.2},g);
  
  
  P.pts.forEach(p=>{
    const c=mk('circle',{cx:X(p[0]).toFixed(1),cy:Y(p[1]).toFixed(1),r:7.5},cg);
    
    
  });
  const ln=mk('line',{x1:X(P.lx[0]),y1:Y(P.ly[0]),x2:X(P.lx[1]),y2:Y(P.ly[1]),stroke:'#222','stroke-width':4.5,'stroke-dasharray':'10 6'},g);
  
  
  const rt=mk('text',{x:r-14,y:b-84,'text-anchor':'end','font-family':'"Liberation Serif",serif','font-weight':'bold','font-style':'italic','font-size':50,textLength:i<2?164:168,lengthAdjust:'spacingAndGlyphs',fill:'#000'},g);
  
  
  rt.textContent='r = '+rValues[i];
  const pt=mk('text',{x:r-14,y:b-28,'text-anchor':'end','font-family':'"Liberation Serif",serif','font-weight':'bold','font-style':'italic','font-size':50,textLength:i<2?180:170,lengthAdjust:'spacingAndGlyphs',fill:'#000'},g);
  
  
  pt.textContent='P '+pValues[i];
});
</script>
</body></html>
